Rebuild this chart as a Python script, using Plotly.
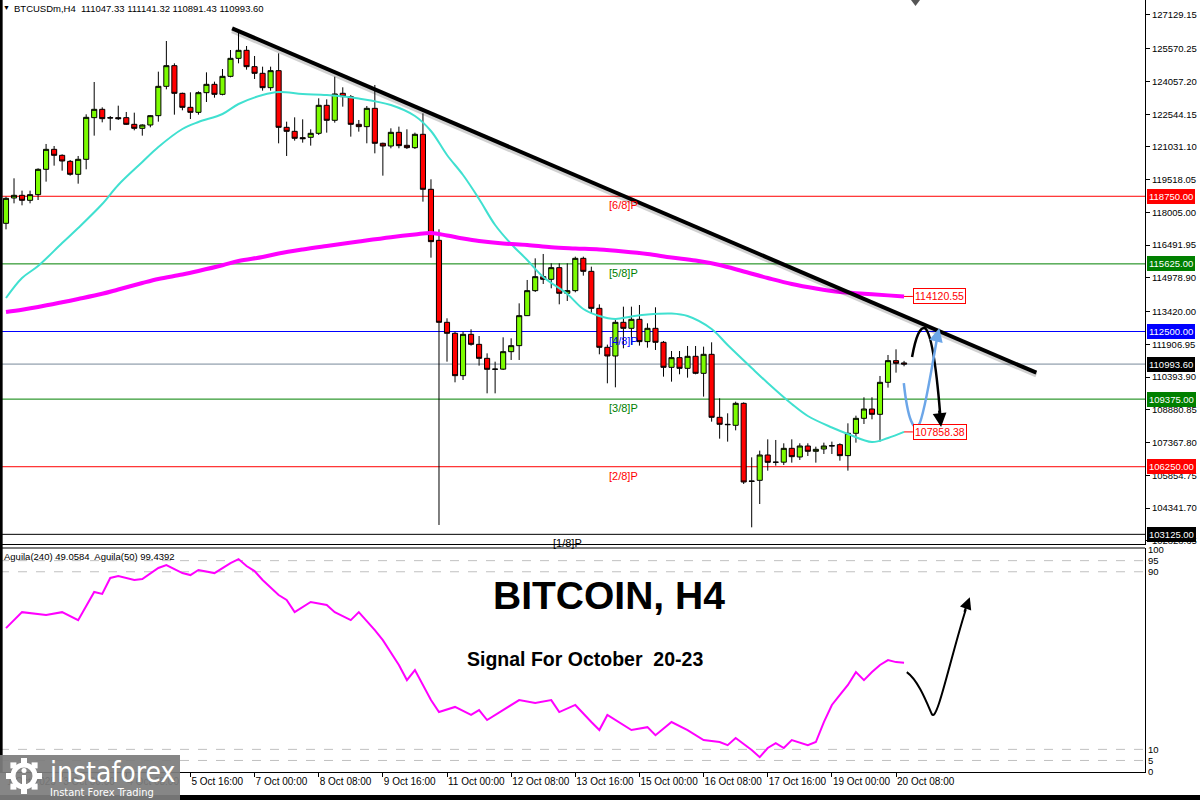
import math
import plotly.graph_objects as go

# ---- BTCUSDm H4 candles, 1 Oct 20:00 .. 20 Oct 12:00 (bar index 0..112) ----
opens = [117500, 118671, 118794, 118563, 118825, 119996, 120920, 120643, 120365, 119765,
         120458, 122384, 122769, 122384, 122384, 122384, 122076, 121891, 122045, 122476,
         123832, 124787, 123508, 122861, 122630, 123539, 123924, 123462, 124294, 125126,
         125496, 124741, 124433, 123770, 124556, 121937, 121752, 121460, 121475, 121660,
         122954, 122261, 123509, 123355, 122076, 121968, 122815, 121198, 121074, 121706,
         121105, 120997, 121614, 119072, 116714, 112924, 112416, 110459, 112369, 111907,
         111260, 110752, 110760, 111568, 111846, 113232, 114388, 115035, 114912, 115451,
         114265, 114388, 115882, 115281, 113571, 111769, 111368, 112924, 112647, 113063,
         112031, 112647, 112000, 110844, 111291, 110798, 111353, 110567, 111445, 108533,
         108210, 108164, 109180, 105591, 105621, 106792, 106453, 106460, 107100, 106700,
         107208, 106962, 107069, 107208, 107270, 106762, 107794, 108487, 108918, 108672,
         110151, 111153, 111047.33]
highs = [118732, 119580, 119010, 119010, 120042, 121167, 121074, 120689, 120427, 120612,
         122538, 124032, 122861, 122461, 122938, 122646, 122615, 122076, 122507, 124510,
         125927, 124895, 123539, 123555, 123601, 124479, 124048, 124633, 125511, 126328,
         125696, 125234, 124741, 124741, 125357, 122199, 122399, 122307, 121845, 123278,
         123231, 124279, 123786, 123432, 122276, 122923, 123894, 121228, 121891, 121968,
         121845, 121691, 122584, 119534, 117223, 113109, 112493, 112493, 112601, 112292,
         111491, 111106, 112231, 112185, 113802, 114881, 115882, 116083, 115651, 115651,
         115651, 115959, 115959, 115497, 113756, 111894, 113063, 113648, 113648, 113725,
         112878, 113618, 112062, 111599, 111599, 111830, 111830, 111800, 112000, 109412,
         108718, 109257, 109226, 106684, 106993, 107516, 107486, 107332, 107516, 107332,
         107332, 107177, 107362, 107409, 107332, 108256, 108610, 109458, 109458, 110444,
         111414, 111676, 111141.32]
lows = [117222, 118424, 118332, 118424, 118578, 119426, 120165, 119934, 119703, 119333,
        119996, 121552, 122168, 121798, 122276, 122045, 121798, 121552, 121937, 122199,
        123693, 122522, 122723, 122322, 122522, 123108, 123308, 123416, 124248, 124895,
        124602, 124171, 123632, 123632, 121197, 120612, 121321, 121228, 121090, 121583,
        121691, 122153, 122892, 121506, 121737, 121198, 120735, 119703, 120967, 120967,
        120936, 120936, 118501, 115913, 103557, 111106, 110151, 110259, 111846, 110921,
        109642, 109642, 110721, 111183, 111183, 113217, 114326, 114696, 114496, 113756,
        113910, 114311, 115081, 113340, 111445, 110105, 109920, 111723, 111877, 111846,
        111753, 111646, 110413, 110182, 110521, 110367, 110521, 109489, 108333, 107547,
        107409, 107932, 105452, 103449, 104527, 106068, 106299, 106330, 106438, 106561,
        106746, 106438, 106839, 106839, 106530, 106068, 107362, 108225, 108441, 107409,
        109905, 110598, 110891.43]
closes = [118655, 118794, 118563, 118825, 119996, 120920, 120643, 120381, 119765, 120458,
          122399, 122769, 122338, 122369, 122338, 122076, 121891, 122045, 122476, 123832,
          124787, 123508, 122861, 122630, 123539, 123924, 123462, 124294, 125126, 125496,
          124741, 124433, 123770, 124556, 121937, 121752, 121429, 121413, 121660, 122954,
          122261, 123478, 123355, 122076, 121968, 122815, 121198, 121074, 121706, 121090,
          120997, 121614, 119072, 116653, 112924, 112416, 110459, 112369, 111907, 111260,
          110752, 110760, 111568, 111846, 113232, 114388, 115035, 114912, 115451, 114265,
          114388, 115882, 115281, 113571, 111769, 111368, 112924, 112647, 113063, 112031,
          112647, 112000, 110844, 111291, 110798, 111353, 110567, 111445, 108533, 108210,
          108195, 109180, 105544, 105575, 106792, 106453, 106460, 107100, 106715, 107208,
          106962, 107054, 107208, 107220, 106762, 107794, 108487, 108918, 108672, 110151,
          111153, 111029, 110993.60]
bars = list(range(len(opens)))

# fast MA (turquoise)
ma_fast_bars = [0, 2, 4, 7, 9, 12, 14, 17, 19, 22, 24, 27, 29, 32, 34, 37, 40, 44, 48, 51,
                53, 55, 57, 59, 61, 63, 65, 67, 70, 72, 74, 76, 78, 80, 83, 85, 88, 90, 93,
                95, 98, 100, 103, 105, 108, 110, 112]
ma_fast_vals = [114048, 114973, 115527, 116591, 117284, 118393, 119271, 120334, 121028, 121860,
                122183, 122553, 123015, 123431, 123570, 123477, 123431, 123269, 122969, 122460,
                121767, 120658, 119733, 118624, 117422, 116544, 115805, 115019, 114233, 113540,
                113216, 113078, 113193, 113286, 113332, 113216, 112616, 111876, 110813, 110120,
                109149, 108594, 108063, 107763, 107393, 107578, 107858.38]

# slow MA (magenta)
ma_slow_bars = [0, 2, 4, 7, 9, 12, 14, 17, 19, 22, 24, 27, 29, 32, 34, 37, 40, 44, 48, 51,
                53, 55, 57, 59, 62, 65, 68, 71, 74, 77, 80, 83, 86, 89, 92, 95, 98, 101, 104,
                107, 110, 112]
ma_slow_vals = [113401, 113508, 113632, 113850, 114002, 114243, 114441, 114742, 114927, 115135,
                115296, 115560, 115759, 115943, 116105, 116290, 116452, 116660, 116858, 116983,
                117053, 116937, 116799, 116683, 116567, 116498, 116392, 116336, 116290, 116198,
                116082, 115920, 115782, 115574, 115273, 114973, 114696, 114488, 114326, 114250,
                114170, 114120.55]

# Aguila oscillator
aguila_bars = [0, 2, 5, 7, 9, 11, 12, 13, 14, 16, 17, 19, 20, 22, 23, 24, 26, 28, 29, 30,
               31, 32, 34, 35, 36, 38, 40, 41, 43, 44, 46, 47, 49, 50, 51, 53, 54, 56, 58, 59,
               60, 62, 64, 66, 68, 69, 71, 73, 74, 75, 77, 78, 80, 81, 83, 85, 87, 89, 90, 91,
               93, 94, 95, 96, 97, 98, 100, 101, 102, 103, 104, 105, 106, 107, 108, 109, 110,
               111, 112]
aguila_vals = [64.6, 71.8, 70.5, 71.8, 68.2, 80.9, 80.0, 87.2, 88.1, 86.3, 86.7, 91.7, 93.0,
               89.4, 88.5, 90.8, 89.4, 93.9, 95.7, 92.6, 90.3, 86.3, 79.5, 77.3, 71.8, 76.4,
               75.0, 71.8, 68.2, 71.8, 63.7, 59.2, 48.0, 41.2, 45.7, 32.2, 26.8, 29.1, 25.5,
               27.7, 23.2, 27.7, 32.2, 30.9, 32.2, 26.8, 30.0, 22.3, 18.7, 25.5, 20.9, 18.7,
               20.0, 16.4, 22.3, 18.7, 14.2, 13.3, 11.9, 15.1, 9.7, 6.5, 10.6, 12.8, 10.6, 14.2,
               11.9, 13.3, 22.3, 30.0, 34.5, 39.0, 44.8, 41.2, 44.8, 48.0, 50.2, 49.3, 49.06]

price_ticks = [102828.65, 104341.70, 105854.75, 107367.80, 108880.85, 110393.90, 111906.95,
               113420.00, 114978.90, 116491.95, 118005.00, 119518.05, 121031.10, 122544.15,
               124057.20, 125570.25, 127129.15]
osc_ticks = [0, 5, 10, 90, 95, 100]
time_tick_bars = [0, 7, 15, 23, 31, 39, 47, 55, 63, 71, 79, 87, 95, 103, 111]
time_tick_labels = ["1 Oct 2025", "3 Oct 00:00", "4 Oct 08:00", "5 Oct 16:00", "7 Oct 00:00",
                    "8 Oct 08:00", "9 Oct 16:00", "11 Oct 00:00", "12 Oct 08:00",
                    "13 Oct 16:00", "15 Oct 00:00", "16 Oct 08:00", "17 Oct 16:00",
                    "19 Oct 00:00", "20 Oct 08:00"]

# Murrey levels
level_prices = [118750.00, 115625.00, 112500.00, 109375.00, 106250.00, 103125.00]
level_names = ["[6/8]P", "[5/8]P", "[4/8]P", "[3/8]P", "[2/8]P", "[1/8]P"]
last_price = 110993.60
ma_slow_last = 114120.55
ma_fast_last = 107858.38

# trend line drawn by the analyst (bar index, price)
trend_start = (28.2, 126514)
trend_end = (128.5, 110596)

# ---- styles / geometry ----
LEVEL_COLORS = ["#FF0000", "#008000", "#0000FF", "#008000", "#FF0000", "#000000"]
LABEL_X = [74.9, 74.9, 74.9, 74.9, 74.9, 68.0]
W, H = 1200, 800
M_R, M_B = 55, 28
PLOT_W, PLOT_H = W - M_R, H - M_B
MAIN_BOTTOM = (PLOT_H - 544) / PLOT_H
IND_TOP = (PLOT_H - 548) / PLOT_H
FONT = "Liberation Sans, Arial, sans-serif"
NARROW = "Liberation Sans Narrow, DejaVu Sans Condensed, Liberation Sans, sans-serif"


def px(x):
    return x / PLOT_W


def py(y):
    return (PLOT_H - y) / PLOT_H


fig = go.Figure()

fig.add_trace(go.Candlestick(
    x=bars, open=opens, high=highs, low=lows, close=closes,
    xaxis="x2", yaxis="y", whiskerwidth=0, hoverinfo="skip",
    increasing=dict(fillcolor="#7CFC00", line=dict(color="black", width=1)),
    decreasing=dict(fillcolor="#FF0000", line=dict(color="black", width=1)),
))
fig.add_trace(go.Scatter(
    x=ma_fast_bars, y=ma_fast_vals, mode="lines", xaxis="x2", yaxis="y",
    line=dict(color="#40E0D0", width=2, shape="spline"), hoverinfo="skip",
))
fig.add_trace(go.Scatter(
    x=ma_slow_bars, y=ma_slow_vals, mode="lines", xaxis="x2", yaxis="y",
    line=dict(color="#FF00FF", width=4, shape="spline"), hoverinfo="skip",
))
fig.add_trace(go.Scatter(
    x=aguila_bars, y=aguila_vals, mode="lines", xaxis="x", yaxis="y2",
    line=dict(color="#FF00FF", width=2), hoverinfo="skip",
))

shapes = []
# Murrey level lines + current price line
for price, col in zip(level_prices, LEVEL_COLORS):
    shapes.append(dict(type="line", xref="paper", yref="y", x0=0, x1=1, y0=price, y1=price,
                       line=dict(color=col, width=1), layer="below"))
shapes.append(dict(type="line", xref="paper", yref="y", x0=0, x1=1, y0=last_price,
                   y1=last_price, line=dict(color="#778899", width=1), layer="below"))
# oscillator dashed levels
for lv in [95, 90, 10, 5]:
    shapes.append(dict(type="line", xref="paper", yref="y2", x0=0, x1=1, y0=lv, y1=lv,
                       line=dict(color="#C0C0C0", width=1, dash="dash"), layer="below"))
# frame pieces
shapes.append(dict(type="line", xref="paper", yref="paper", x0=0.001, x1=0.001, y0=0, y1=1,
                   line=dict(color="black", width=3)))
shapes.append(dict(type="line", xref="paper", yref="paper", x0=0, x1=1, y0=IND_TOP,
                   y1=IND_TOP, line=dict(color="black", width=1)))
shapes.append(dict(type="rect", xref="paper", yref="paper", x0=0, x1=W / PLOT_W,
                   y0=py(800), y1=py(795), fillcolor="black", line=dict(width=0)))
# small marker at top
shapes.append(dict(type="path", xref="paper", yref="paper",
                   path=f"M {px(911)},{py(0)} L {px(920)},{py(0)} L {px(915.5)},{py(6)} Z",
                   fillcolor="#555555", line=dict(width=0)))
# trend line with soft shadow
shapes.append(dict(type="line", xref="x2", yref="y", x0=trend_start[0], y0=trend_start[1] - 110,
                   x1=trend_end[0], y1=trend_end[1] - 110,
                   line=dict(color="rgba(0,0,0,0.18)", width=5)))
shapes.append(dict(type="line", xref="x2", yref="y", x0=trend_start[0], y0=trend_start[1],
                   x1=trend_end[0], y1=trend_end[1], line=dict(color="black", width=4)))
# connectors from MA ends to their value boxes
for v in [ma_slow_last, ma_fast_last]:
    shapes.append(dict(type="line", xref="x2", yref="y", x0=112, x1=113.1, y0=v, y1=v,
                       line=dict(color="#FF0000", width=1)))
# hand drawn arrows
shapes.append(dict(type="path", xref="x2", yref="y",
                   path="M 113.0,111320 Q 113.7,112750 114.6,112660 Q 115.7,112340 116.5,108700",
                   line=dict(color="black", width=2.5)))
shapes.append(dict(type="path", xref="x2", yref="y",
                   path="M 111.97,110119 C 112.47,108409 113.22,107854 113.84,108178 "
                        "C 114.59,108640 115.59,111183 116.15,112250",
                   line=dict(color="#6CA6E8", width=2.5)))
shapes.append(dict(type="path", xref="x", yref="y2",
                   path="M 112.34,44.8 C 113.72,41.2 114.71,32.2 115.46,25.9 "
                        "C 116.08,21.4 117.71,50.2 119.7,73",
                   line=dict(color="black", width=2)))
# logo plate with a simple gear
shapes.append(dict(type="rect", xref="paper", yref="paper", x0=0, x1=px(180),
                   y0=py(800), y1=py(755), fillcolor="rgba(125,125,125,0.93)",
                   line=dict(width=0)))
gx, gy, gr = 24, 776, 11
shapes.append(dict(type="circle", xref="paper", yref="paper",
                   x0=px(gx - gr), x1=px(gx + gr), y0=py(gy + gr), y1=py(gy - gr),
                   line=dict(color="white", width=5)))
for k in range(8):
    a = k * math.pi / 4
    cx, cy = gx + 15 * math.cos(a), gy + 15 * math.sin(a)
    shapes.append(dict(type="rect", xref="paper", yref="paper",
                       x0=px(cx - 3), x1=px(cx + 3), y0=py(cy + 3), y1=py(cy - 3),
                       fillcolor="white", line=dict(width=0)))
shapes.append(dict(type="circle", xref="paper", yref="paper",
                   x0=px(gx - 2.5), x1=px(gx + 2.5), y0=py(gy - 3), y1=py(gy - 8),
                   fillcolor="white", line=dict(width=0)))
shapes.append(dict(type="rect", xref="paper", yref="paper",
                   x0=px(gx - 2), x1=px(gx + 2), y0=py(gy + 9), y1=py(gy - 1),
                   fillcolor="white", line=dict(width=0)))

ann = []
ann.append(dict(xref="paper", yref="paper", x=px(1), y=1, xanchor="left", yanchor="top",
                yshift=-2, text="▼", showarrow=False, font=dict(size=7, color="black")))
ann.append(dict(xref="paper", yref="paper", x=px(12), y=1, xanchor="left", yanchor="top",
                yshift=-1,
                text="BTCUSDm,H4\u00a0 111047.33 111141.32 110891.43 110993.60",
                showarrow=False, font=dict(size=9.5, color="black", family=FONT)))
ann.append(dict(xref="paper", yref="paper", x=px(2), y=IND_TOP, xanchor="left", yanchor="top",
                yshift=-1, text="Aguila(240) 49.0584\u00a0 Aguila(50) 99.4392",
                showarrow=False, font=dict(size=9.5, color="black", family=FONT)))
for price, name, col, lx in zip(level_prices, level_names, LEVEL_COLORS, LABEL_X):
    ann.append(dict(xref="x2", yref="y", x=lx, y=price, xanchor="left", yanchor="top",
                    yshift=-1, text=name, showarrow=False,
                    font=dict(size=11, color=col, family=FONT)))
# right axis value boxes
box_prices = [118750.00, 115625.00, 112500.00, last_price, 109375.00, 106250.00, 103125.00]
box_colors = ["#FF0000", "#008000", "#0000FF", "#000000", "#008000", "#FF0000", "#000000"]
for price, col in zip(box_prices, box_colors):
    ann.append(dict(xref="paper", yref="y", x=1, y=price, xanchor="left", yanchor="middle",
                    xshift=2, text=f"{price:.2f}", showarrow=False, bgcolor=col,
                    bordercolor=col, borderpad=1,
                    font=dict(size=9.5, color="white", family=FONT)))
# MA value boxes
for v in [ma_slow_last, ma_fast_last]:
    ann.append(dict(xref="x2", yref="y", x=113.1, y=v, xanchor="left", yanchor="middle",
                    text=f"{v:.2f}", showarrow=False, bgcolor="white", bordercolor="#FF0000",
                    borderwidth=1, borderpad=1,
                    font=dict(size=10.5, color="#FF0000", family=FONT)))
# arrow heads
ann.append(dict(xref="x2", yref="y", x=116.62, y=108086, ax=-2, ay=-18, text="",
                showarrow=True, arrowhead=2, arrowsize=1.1, arrowwidth=2.5, arrowcolor="black"))
ann.append(dict(xref="x2", yref="y", x=116.4, y=112660, ax=-3, ay=12, text="",
                showarrow=True, arrowhead=2, arrowsize=1.1, arrowwidth=2.5, arrowcolor="#6CA6E8"))
ann.append(dict(xref="x", yref="y2", x=120.2, y=78.5, ax=-6, ay=16, text="",
                showarrow=True, arrowhead=2, arrowsize=1.2, arrowwidth=2, arrowcolor="black"))
# titles
ann.append(dict(xref="paper", yref="paper", x=px(609), y=py(595), xanchor="center",
                yanchor="middle", text="<b>BITCOIN, H4</b>",
                showarrow=False, font=dict(size=39, color="black", family=FONT)))
ann.append(dict(xref="paper", yref="paper", x=px(585), y=py(659), xanchor="center",
                yanchor="middle", text="<b>Signal For October\u00a0 20-23</b>",
                showarrow=False, font=dict(size=19.5, color="black", family=FONT)))
# logo text
ann.append(dict(xref="paper", yref="paper", x=px(48), y=py(772), xanchor="left",
                yanchor="middle", text="instaforex", showarrow=False,
                font=dict(size=28, color="white", family=NARROW)))
ann.append(dict(xref="paper", yref="paper", x=px(48), y=py(792), xanchor="left",
                yanchor="middle", text="Instant Forex Trading", showarrow=False,
                font=dict(size=11, color="white", family=NARROW)))

axis_common = dict(showgrid=False, zeroline=False, linecolor="black", linewidth=1,
                   tickcolor="black", automargin=False)

fig.update_layout(
    width=W, height=H,
    margin=dict(l=0, r=M_R, t=0, b=M_B),
    paper_bgcolor="white", plot_bgcolor="white",
    showlegend=False,
    font=dict(family=FONT, size=10, color="black"),
    boxgap=0.25, boxgroupgap=0.15,
    xaxis=dict(domain=[0, 1], anchor="y2", range=[-0.748, 142.05],
               tickmode="array", tickvals=time_tick_bars, ticktext=time_tick_labels,
               ticks="outside", ticklen=4, ticklabelposition="outside right", tickangle=0,
               showline=True, tickfont=dict(size=10), rangeslider=dict(visible=False),
               **axis_common),
    xaxis2=dict(domain=[0, 1], anchor="y", matches="x", showticklabels=False, ticks="",
                showline=True, rangeslider=dict(visible=False), **axis_common),
    yaxis=dict(domain=[MAIN_BOTTOM, 1], anchor="x2", side="right", range=[102678, 127822],
               tickmode="array", tickvals=price_ticks,
               ticktext=[f"{v:.2f}" for v in price_ticks],
               ticks="outside", ticklen=4, showline=True, tickfont=dict(size=9.5),
               **axis_common),
    yaxis2=dict(domain=[0, IND_TOP], anchor="x", side="right", range=[-0.2, 100.7],
                tickmode="array", tickvals=osc_ticks,
                ticks="", showline=True, tickfont=dict(size=9.5), **axis_common),
    shapes=shapes,
    annotations=ann,
)

fig.write_html(
    "out.html",
    config={"displayModeBar": False},
    post_script="document.body.style.margin='0';document.body.style.overflow='hidden';",
)
